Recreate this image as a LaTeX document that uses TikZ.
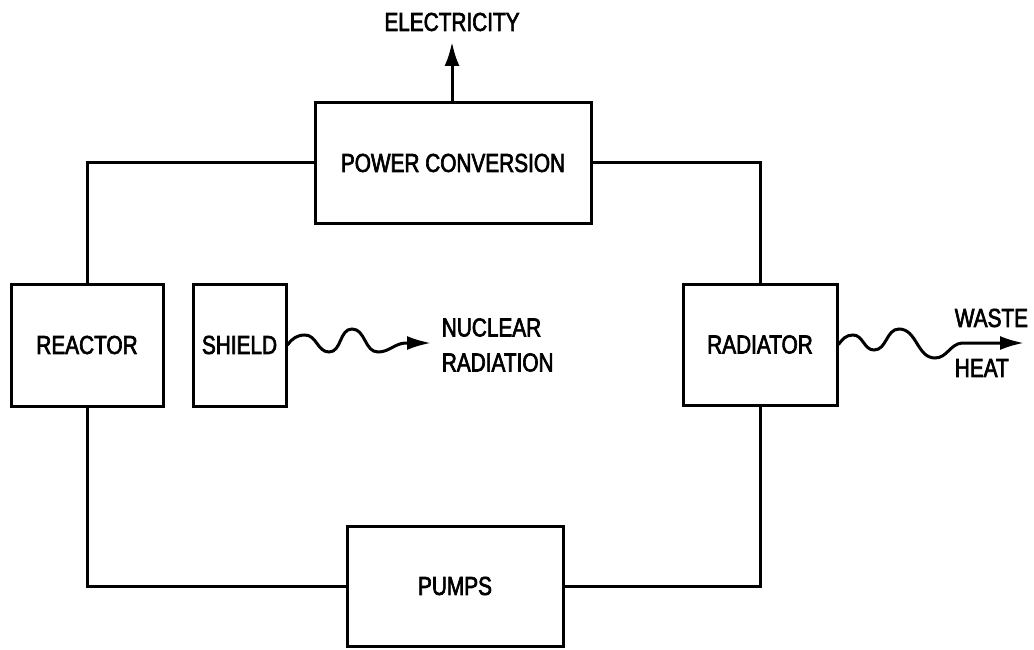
\documentclass[tikz,border=0pt]{standalone}
\usepackage{fontspec}
\setmainfont{Liberation Sans}[FakeStretch=0.8,FakeBold=2.5]
\usetikzlibrary{arrows.meta}
\begin{document}
\begin{tikzpicture}[x=1pt,y=-1pt,
  line width=3pt,
  blk/.style={draw,rectangle,inner sep=0pt,minimum width=#1},
  lbl/.style={font=\fontsize{26}{35}\selectfont},
  bigtip/.style={-{Latex[length=24pt,width=15pt]}},
  wavetip/.style={-{Latex[length=24pt,width=14pt]}}]
\useasboundingbox (0,0) rectangle (1034,650);
% blocks
\node[blk=276pt,minimum height=120pt,lbl] (pc) at (453,163) {POWER CONVERSION};
\node[blk=152pt,minimum height=122pt,lbl] (reactor) at (87,345) {REACTOR};
\node[blk=93pt,minimum height=122pt,lbl] (shield) at (239.5,345) {SHIELD};
\node[blk=154pt,minimum height=121pt,lbl] (radiator) at (760,344.5) {RADIATOR};
\node[blk=216pt,minimum height=120pt,lbl] (pumps) at (455,586) {PUMPS};
% labels
\node[lbl] (elec) at (452,22) {ELECTRICITY};
\node[lbl,anchor=west,align=left] (nucl) at (437,345) {NUCLEAR\\RADIATION};
\node[lbl,anchor=west] (waste) at (950,318) {WASTE};
\node[lbl,anchor=west] (heat) at (950,368) {HEAT};
% coordinates
\coordinate (etip) at (452,42);
\coordinate (ntip) at (431,343);
\coordinate (wtip) at (1024,343);
% loop
\draw (reactor.north) |- (pc.west);
\draw (pc.east) -| (radiator.north);
\draw (radiator.south) |- (pumps.east);
\draw (pumps.west) -| (reactor.south);
% electricity
\draw[bigtip] (pc.north -| etip) -- (etip);
% nuclear radiation wave
\draw[wavetip] (shield.east) to[out=55,in=180] (305,335) to[out=0,in=180] (329,352)
  to[out=0,in=180] (352,329) to[out=0,in=180] (378,352) to[out=0,in=185] (405,343) -- (ntip);
% waste heat wave
\draw[wavetip] (radiator.east) to[out=55,in=180] (853,335) to[out=0,in=180] (874,350)
  to[out=0,in=180] (899,329) to[out=0,in=180] (935,358) to[out=0,in=185] (962,343) -- (wtip);
\end{tikzpicture}
\end{document}
